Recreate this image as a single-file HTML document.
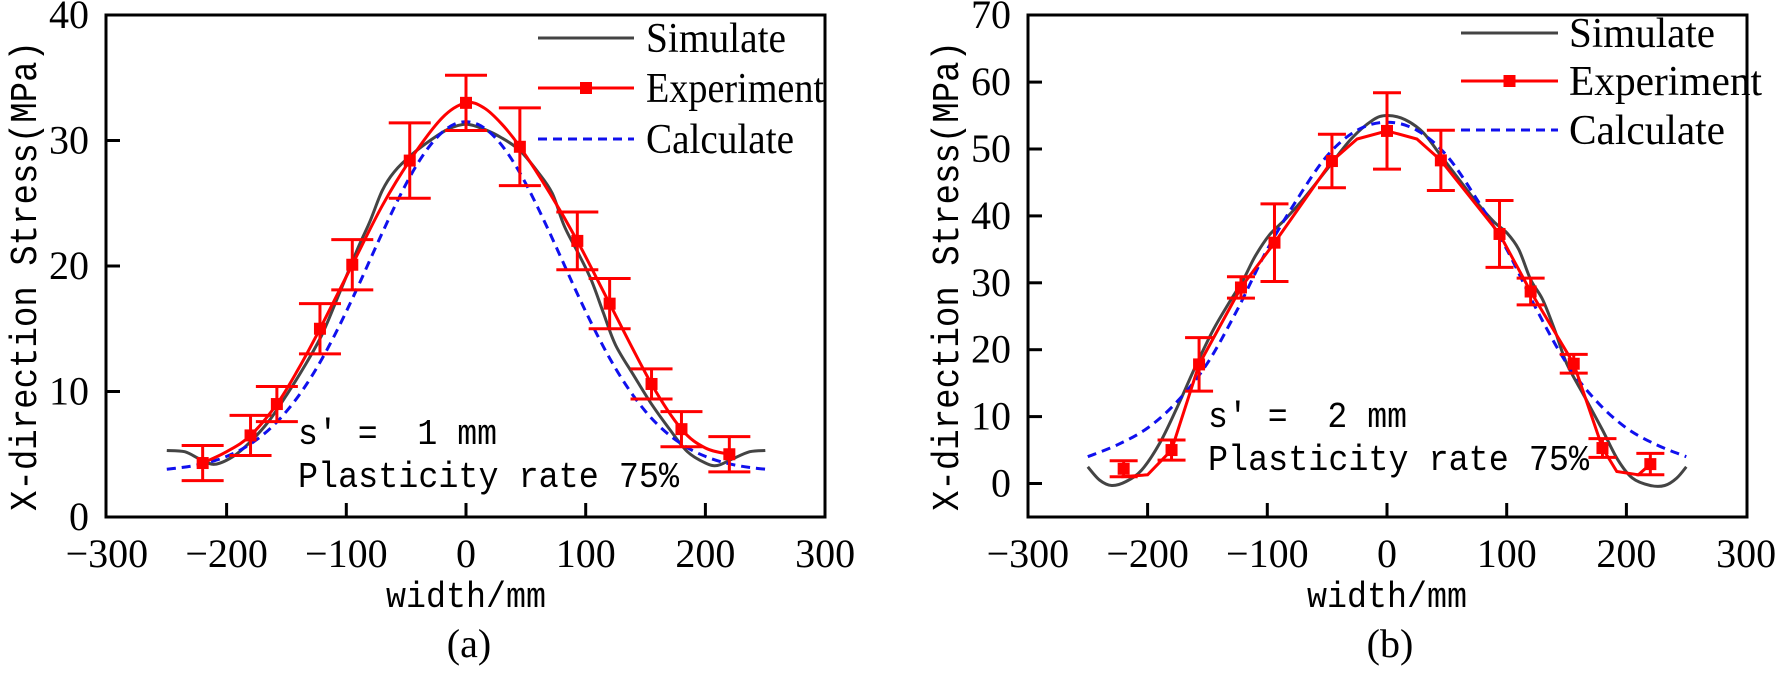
<!DOCTYPE html>
<html><head><meta charset="utf-8"><style>
html,body{margin:0;padding:0;background:#fff;}
svg{display:block;}
text{white-space:pre;}
.tk{font-family:"Liberation Serif",serif;font-size:40px;fill:#000;}
.lg{font-family:"Liberation Serif",serif;font-size:42px;fill:#000;}
.mono{font-family:"Liberation Mono","DejaVu Sans Mono",monospace;fill:#000;}
</style></head><body>
<svg id="s" width="1776" height="675" viewBox="0 0 1776 675" xmlns="http://www.w3.org/2000/svg"></svg>
<script>
var S=document.getElementById('s'),NS='http://www.w3.org/2000/svg';
function el(t,a,txt){var e=document.createElementNS(NS,t);for(var k in a)e.setAttribute(k,a[k]);if(txt!=null)e.textContent=txt;S.appendChild(e);return e;}
function cr(p){var d='M'+p[0][0].toFixed(1)+','+p[0][1].toFixed(1);for(var i=0;i<p.length-1;i++){var p0=p[i-1]||p[i],p1=p[i],p2=p[i+1],p3=p[i+2]||p2;
var c1x=p1[0]+(p2[0]-p0[0])/6,c1y=p1[1]+(p2[1]-p0[1])/6,c2x=p2[0]-(p3[0]-p1[0])/6,c2y=p2[1]-(p3[1]-p1[1])/6;
d+=' C'+c1x.toFixed(1)+','+c1y.toFixed(1)+' '+c2x.toFixed(1)+','+c2y.toFixed(1)+' '+p2[0].toFixed(1)+','+p2[1].toFixed(1);}return d;}
function chart(o){
 var X=function(v){return o.x0+1.197*v;},Y=o.Y;
 el('rect',{x:o.L,y:15,width:o.R-o.L,height:517-15,fill:'none',stroke:'#000','stroke-width':3});
 [-200,-100,0,100,200].forEach(function(v){el('line',{x1:X(v),y1:517,x2:X(v),y2:503,stroke:'#000','stroke-width':3});});
 [-300,-200,-100,0,100,200,300].forEach(function(v){var s=(v<0?'\u2212':'')+Math.abs(v);el('text',{x:X(v),y:567,'text-anchor':'middle','class':'tk'},s);});
 o.yt.forEach(function(v){if(v!==o.ymax)el('line',{x1:o.L,y1:Y(v),x2:o.L+14,y2:Y(v),stroke:'#000','stroke-width':3});
   el('text',{x:o.L-17,y:Y(v)+13,'text-anchor':'end','class':'tk'},String(v));});
 var sim=o.sim.map(function(p){return [X(p[0]),Y(p[1])];});
 el('path',{d:cr(sim),fill:'none',stroke:'#444','stroke-width':3});
 var cal=o.cal.map(function(p){return [X(p[0]),Y(p[1])];});
 el('path',{d:cr(cal),fill:'none',stroke:'#1010ee','stroke-width':3,'stroke-dasharray':'9,6'});
 var ex=o.exl.map(function(p){return [X(p[0]),Y(p[1])];});
 el('path',{d:o.lin?('M'+ex.map(function(p){return p[0].toFixed(1)+','+p[1].toFixed(1);}).join(' L')):cr(ex),fill:'none',stroke:'#f00','stroke-width':3});
 o.ex.forEach(function(p){var x=X(p[0]),y=Y(p[1]),t=Y(p[1]+p[2]),b=Y(p[1]-p[2]),c=o.cap;
  el('line',{x1:x,y1:t,x2:x,y2:b,stroke:'#f00','stroke-width':3});
  el('line',{x1:x-c,y1:t,x2:x+c,y2:t,stroke:'#f00','stroke-width':3});
  el('line',{x1:x-c,y1:b,x2:x+c,y2:b,stroke:'#f00','stroke-width':3});
  el('rect',{x:x-6,y:y-6,width:12,height:12,fill:'#f00'});});
 var g=o.lg;
 el('line',{x1:g.x1,y1:g.y[0],x2:g.x2,y2:g.y[0],stroke:'#444','stroke-width':3});
 el('line',{x1:g.x1,y1:g.y[1],x2:g.x2,y2:g.y[1],stroke:'#f00','stroke-width':3});
 el('rect',{x:(g.x1+g.x2)/2-6,y:g.y[1]-6,width:12,height:12,fill:'#f00'});
 el('line',{x1:g.x1,y1:g.y[2],x2:g.x2,y2:g.y[2],stroke:'#1010ee','stroke-width':3,'stroke-dasharray':'9,6'});
 el('text',{x:g.tx,y:g.y[0]+14,'class':'lg',textLength:g.w[0],lengthAdjust:'spacingAndGlyphs'},'Simulate');
 el('text',{x:g.tx,y:g.y[1]+14,'class':'lg',textLength:g.w[1],lengthAdjust:'spacingAndGlyphs'},'Experiment');
 el('text',{x:g.tx,y:g.y[2]+14,'class':'lg',textLength:g.w[2],lengthAdjust:'spacingAndGlyphs'},'Calculate');
 el('text',{x:o.ax,y:o.ay,'class':'mono','font-size':36,textLength:199,lengthAdjust:'spacingAndGlyphs'},o.s);
 el('text',{x:o.ax,y:o.ay+43,'class':'mono','font-size':36,textLength:381,lengthAdjust:'spacingAndGlyphs'},'Plasticity rate 75%');
 el('text',{x:0,y:0,'class':'mono','font-size':38,'text-anchor':'middle',textLength:470,lengthAdjust:'spacingAndGlyphs',transform:'translate('+(o.ylx)+',276) rotate(-90)'},'X-direction Stress(MPa)');
 el('text',{x:o.x0,y:607,'class':'mono','font-size':36,'text-anchor':'middle',textLength:160,lengthAdjust:'spacingAndGlyphs'},'width/mm');
 el('text',{x:o.x0+3,y:657,'class':'tk','text-anchor':'middle','font-size':40},o.lab);
}
var YA=function(v){return 517-12.55*v;};
var sa=[[-250,5.3],[-235,5.2],[-222,4.6],[-210,4.2],[-195,4.8],[-180,6],[-165,7.6],[-150,9.7],[-135,12],[-120,14.6],[-105,18],[-90,21.5],[-80,23.6],[-70,26],[-60,27.5],[-45,28.9],[-30,30],[-15,30.9],[0,31.3],[15,30.9],[30,30.2],[45,29.2],[60,27.5],[72,25.8],[82,23.2],[95,20.8],[105,18.8],[115,16.2],[125,13.7],[140,11.3],[155,9],[170,7],[185,5.2],[200,4.3],[210,4.1],[222,4.6],[237,5.2],[250,5.3]];
var ca=[];for(var v=-250;v<=250;v+=10){ca.push([v,3.6+27.9*Math.exp(-v*v/(2*80*80))]);}
var ea=[[-220,4.3,1.4],[-180,6.5,1.6],[-158,9,1.4],[-122,15,2],[-95,20.1,2],[-47,28.4,3],[0,33,2.2],[45,29.5,3.1],[93,22,2.3],[120,17,2],[155,10.6,1.2],[180,7,1.4],[220,5,1.4]];
var eal=[[-220,4.3],[-200,5.2],[-180,6.5],[-158,9],[-140,11.8],[-122,15],[-95,20.1],[-70,24.8],[-47,28.4],[-20,31.8],[0,33],[15,32.6],[30,31.3],[45,29.5],[70,25.8],[93,22],[120,17],[155,10.6],[180,7],[200,5.5],[220,5]];
chart({L:106,R:825,x0:466,Y:YA,yt:[0,10,20,30,40],ymax:40,sim:sa,cal:ca,ex:ea,exl:eal,cap:21,
 lg:{x1:538,x2:634,y:[38,88,139],tx:646,w:[140,178,148]},ax:298,ay:444,s:'s\u2032 =  1 mm',ylx:36,lab:'(a)'});
var YB=function(v){return 483.5-6.69*v;};
var sb=[[-250,2.5],[-240,0.5],[-230,-0.3],[-218,0.3],[-205,2],[-190,6],[-175,11.5],[-160,17.5],[-145,23],[-132,27],[-120,30.5],[-110,34],[-98,37.2],[-85,39.5],[-70,42.5],[-50,47],[-30,51.5],[-12,54.3],[0,55],[15,54.4],[30,52.5],[45,49],[60,45.5],[75,42],[90,39],[100,37.5],[110,35],[120,30.5],[130,27.5],[140,23],[150,18],[165,13],[180,8],[193,3.5],[205,0.8],[220,-0.3],[232,-0.3],[242,0.8],[250,2.5]];
var cb=[[-250,4],[-225,5.8],[-200,8.3],[-175,12.3],[-150,18],[-125,26],[-100,35],[-75,42.5],[-50,49],[-25,52.8],[0,54],[25,52.8],[50,49],[75,42.5],[100,35],[125,26],[150,18],[175,12.3],[200,8.3],[225,5.8],[250,4]];
var eb=[[-220,2.2,1.2],[-180,5,1.5],[-157,17.8,4],[-122,29.3,1.6],[-94,36,5.8],[-46,48.2,4],[0,52.7,5.7],[45,48.3,4.5],[94,37.3,5],[120,28.7,2],[156,17.9,1.4],[180,5.3,1.4],[220,2.9,1.6]];
var ebl=[[-222,1.0],[-200,1.3],[-180,5],[-157,17.8],[-122,29.3],[-94,36],[-46,48.2],[-25,51.5],[0,52.7],[25,51.5],[45,48.3],[94,37.3],[120,28.7],[156,17.9],[180,5.3],[192,1.8],[210,1.3],[220,2.9]];
chart({L:1028,R:1747,x0:1387,Y:YB,yt:[0,10,20,30,40,50,60,70],ymax:70,sim:sb,cal:cb,ex:eb,exl:ebl,lin:true,cap:14,
 lg:{x1:1461,x2:1558,y:[33,81,130],tx:1569,w:[146,193,156]},ax:1208,ay:427,s:'s\u2032 =  2 mm',ylx:958,lab:'(b)'});
</script>
</body></html>
